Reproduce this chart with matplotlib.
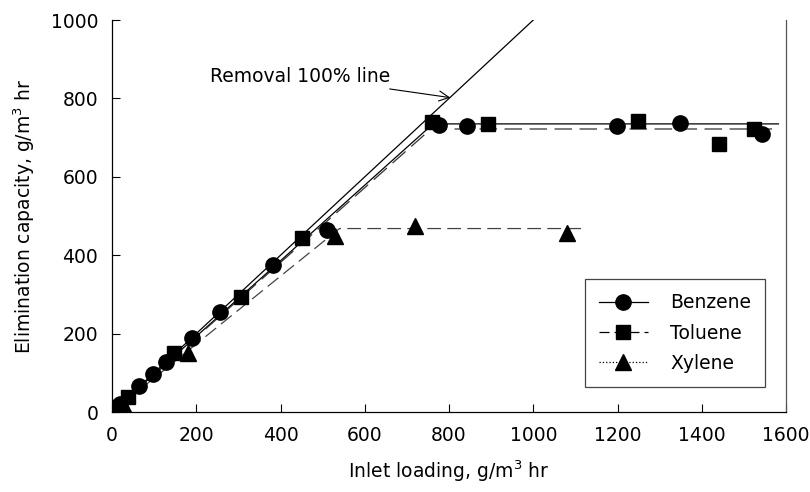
import matplotlib.pyplot as plt
from matplotlib.lines import Line2D

plt.rcParams['font.family'] = 'DejaVu Sans'

# measured points
benzene_x = [5, 20, 65, 97, 128, 190, 256, 383, 510, 776, 843, 1198, 1348, 1543]
benzene_y = [5, 20, 66, 97, 127, 190, 254, 375, 464, 733, 730, 730, 738, 708]

toluene_x = [5, 15, 38, 146, 305, 452, 760, 892, 1248, 1440, 1525]
toluene_y = [5, 12, 38, 150, 294, 443, 740, 735, 742, 683, 721]

xylene_x = [8, 25, 180, 530, 720, 1080]
xylene_y = [6, 20, 150, 448, 474, 456]

# fitted lines (origin, knee, end)
benzene_fit_x = [0, 762, 1582]
benzene_fit_y = [0, 735, 735]
toluene_fit_x = [0, 757, 1580]
toluene_fit_y = [0, 722, 722]
xylene_fit_x = [0, 540, 1120]
xylene_fit_y = [0, 468, 468]

removal_x = [0, 1100]
removal_y = [0, 1100]

fig, ax = plt.subplots(figsize=(8.1, 4.92), dpi=100)
fig.subplots_adjust(left=0.1383, right=0.9704, bottom=0.1626, top=0.9593)

ax.plot(removal_x, removal_y, color='black', lw=0.9)
ax.plot(benzene_fit_x, benzene_fit_y, color='black', lw=0.9)
ax.plot(toluene_fit_x, toluene_fit_y, color='#333333', lw=0.9, dashes=(14, 6))
ax.plot(xylene_fit_x, xylene_fit_y, color='#444444', lw=0.9, dashes=(11, 5))

ax.plot(benzene_x, benzene_y, 'o', color='black', ms=11, ls='none')
ax.plot(toluene_x, toluene_y, 's', color='black', ms=9.5, ls='none')
ax.plot(xylene_x, xylene_y, '^', color='black', ms=11, ls='none')

ax.annotate('Removal 100% line', xy=(803, 802), xytext=(660, 857),
            ha='right', va='center', fontsize=13.5,
            arrowprops=dict(arrowstyle='->', color='black', lw=0.8,
                            mutation_scale=18, shrinkA=3, shrinkB=0))

ax.set_xlim(0, 1600)
ax.set_ylim(0, 1000)
ax.set_xticks(range(0, 1601, 200))
ax.set_yticks(range(0, 1001, 200))
ax.tick_params(direction='in', length=6, width=0.8, labelsize=13.5, pad=10)

ax.spines['top'].set_visible(False)
for s in ['left', 'bottom', 'right']:
    ax.spines[s].set_linewidth(0.9)
ax.spines['right'].set_color('#555555')

ax.set_xlabel('Inlet loading, g/m$^3$ hr', fontsize=13.5, labelpad=10)
ax.set_ylabel('Elimination capacity, g/m$^3$ hr', fontsize=13.5, labelpad=10)

handles = [
    Line2D([], [], color='black', lw=0.9, marker='o', ms=11),
    Line2D([], [], color='black', lw=0.9, marker='s', ms=9.5, dashes=(8, 4)),
    Line2D([], [], color='black', lw=0.9, marker='^', ms=11, ls=':'),
]
leg = ax.legend(handles, ['Benzene', 'Toluene', 'Xylene'], loc='lower right',
                bbox_to_anchor=(0.983, 0.04), fontsize=13.5, fancybox=False,
                edgecolor='#444444', framealpha=1, handlelength=2.6,
                borderpad=0.75, labelspacing=0.6, handletextpad=1.2)
leg.get_frame().set_linewidth(0.9)

fig.savefig('out.png', dpi=100)
